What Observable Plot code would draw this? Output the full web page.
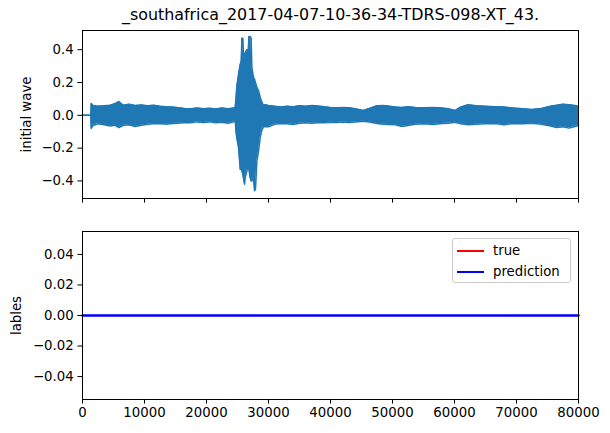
<!DOCTYPE html>
<html>
<head>
<meta charset="utf-8">
<script src="https://cdn.jsdelivr.net/npm/d3@7"></script>
<script src="https://cdn.jsdelivr.net/npm/@observablehq/plot@0.6"></script>
<style>
  html, body { margin: 0; padding: 0; background: white; }
  #wrap { position: relative; width: 610px; height: 433px; font-family: "DejaVu Sans", sans-serif; }
  #wrap svg { display: block; }
  .legend { position: absolute; left: 452px; top: 238px; width: 119px; height: 45px;
            border: 1px solid #cccccc; border-radius: 3px; background: rgba(255,255,255,0.8);
            box-sizing: border-box; font-size: 13.3px; color: #000; }
  .legend .sw { position: absolute; left: 4px; width: 27px; height: 2px; }
  .legend .lb { position: absolute; left: 40px; line-height: 15px; }
</style>
</head>
<body>
<div id="wrap"></div>
<script>
// ---- data ----
const titleText = "_southafrica_2017-04-07-10-36-34-TDRS-098-XT_43.";
const xTicks = [0, 10000, 20000, 30000, 40000, 50000, 60000, 70000, 80000];
const waveYTicks = [-0.4, -0.2, 0.0, 0.2, 0.4];
const labelYTicks = [-0.04, -0.02, 0.0, 0.02, 0.04];

// envelope of the waveform (sample index, upper, lower)
const waveX = [0, 1350, 1400, 1700, 2500, 3500, 4500, 5200, 5870, 6500, 7500, 8500, 9500, 10500, 11500, 12500, 13500, 14500, 15500, 16500, 17500, 18500, 19500, 20500, 21500, 22500, 23500, 24400,
  24630, 24790, 24900, 25170, 25440, 25600, 25710, 25870, 25950, 26140, 26240, 26520, 26700, 26840, 27050, 27200, 27320, 27590, 27750, 27900, 28130, 28390, 28660, 28930, 29200,
  29500, 30000, 31000, 32000, 33000, 34000, 35000, 36000, 37000, 38000, 39000, 40000, 41000, 42000, 43000, 44000, 45300, 46500, 47500, 48500, 49500, 50500, 51500, 52500, 53700,
  55000, 56500, 58000, 59000, 60100, 61000, 62200, 63500, 65000, 66500, 68000, 69500, 71000, 72500, 74000, 75500, 76500, 77500, 78500, 79400, 80000];
const waveUpper = [0, 0, 0.072, 0.060, 0.055, 0.058, 0.062, 0.070, 0.084, 0.062, 0.068, 0.060, 0.063, 0.058, 0.062, 0.055, 0.052, 0.050, 0.046, 0.042, 0.040, 0.044, 0.040, 0.043, 0.038, 0.044, 0.040, 0.045,
  0.049, 0.12, 0.18, 0.25, 0.31, 0.33, 0.47, 0.47, 0.38, 0.37, 0.38, 0.40, 0.36, 0.48, 0.48, 0.47, 0.29, 0.23, 0.22, 0.20, 0.17, 0.15, 0.11, 0.08, 0.06,
  0.065, 0.060, 0.055, 0.050, 0.055, 0.052, 0.058, 0.056, 0.060, 0.057, 0.052, 0.048, 0.046, 0.048, 0.046, 0.040, 0.030, 0.045, 0.058, 0.060, 0.055, 0.050, 0.048, 0.052, 0.048,
  0.046, 0.048, 0.044, 0.040, 0.030, 0.050, 0.065, 0.058, 0.055, 0.052, 0.050, 0.044, 0.040, 0.036, 0.042, 0.055, 0.062, 0.068, 0.064, 0.060, 0.055];
const waveLower = [0, 0, -0.080, -0.062, -0.052, -0.058, -0.065, -0.060, -0.075, -0.062, -0.058, -0.068, -0.060, -0.055, -0.052, -0.050, -0.055, -0.050, -0.048, -0.044, -0.046, -0.040, -0.044, -0.040, -0.046, -0.042, -0.048, -0.040,
  -0.032, -0.11, -0.14, -0.196, -0.33, -0.32, -0.34, -0.36, -0.38, -0.42, -0.38, -0.34, -0.31, -0.33, -0.38, -0.40, -0.40, -0.38, -0.46, -0.45, -0.277, -0.22, -0.135, -0.09, -0.07,
  -0.068, -0.070, -0.055, -0.050, -0.052, -0.056, -0.048, -0.046, -0.048, -0.045, -0.046, -0.042, -0.044, -0.040, -0.044, -0.040, -0.036, -0.042, -0.050, -0.054, -0.056, -0.058, -0.068, -0.062, -0.055,
  -0.052, -0.056, -0.050, -0.048, -0.042, -0.052, -0.058, -0.055, -0.052, -0.050, -0.058, -0.050, -0.052, -0.048, -0.055, -0.065, -0.075, -0.070, -0.078, -0.068, -0.062];

// label series (constant zero over the whole record)
const labelX = [0, 80000];
const trueY = [0, 0];
const predY = [0, 0];

// ---- build ----
const wave = waveX.map((x, i) => ({x, hi: waveUpper[i], lo: waveLower[i]}));
const labels = labelX.map((x, i) => ({x, t: trueY[i], p: predY[i]}));

const C = "#1f77b4";
const baseStyle = {fontFamily: "DejaVu Sans, sans-serif", fontSize: "13.3px", color: "black", background: "white", overflow: "visible"};

const topPlot = Plot.plot({
  width: 610, height: 215,
  marginTop: 30, marginBottom: 17, marginLeft: 82, marginRight: 32,
  style: baseStyle,
  x: {domain: [0, 80000]},
  y: {domain: [-0.507, 0.517]},
  marks: [
    Plot.areaY(wave, {x: "x", y1: "lo", y2: "hi", fill: C, curve: "linear"}),
    Plot.lineY(wave, {x: "x", y: "hi", stroke: C, strokeWidth: 1.5}),
    Plot.lineY(wave, {x: "x", y: "lo", stroke: C, strokeWidth: 1.5}),
    Plot.frame({stroke: "black", strokeWidth: 1}),
    Plot.axisX({ticks: xTicks, tickSize: 4.6, tickFormat: () => "", label: null, stroke: "black"}),
    Plot.axisY({ticks: waveYTicks, tickSize: 4.6, tickPadding: 4.2, tickFormat: d3.format(".1f"), label: null, stroke: "black"}),
    Plot.text([titleText], {frameAnchor: "top", dy: -11, lineAnchor: "bottom", fontSize: 15.9, fill: "black"}),
    Plot.text(["initial wave"], {frameAnchor: "left", dx: -56, rotate: -90, textAnchor: "middle", lineAnchor: "middle", fontSize: 13.3, fill: "black"})
  ]
});

const bottomPlot = Plot.plot({
  width: 610, height: 218,
  marginTop: 16, marginBottom: 34, marginLeft: 82, marginRight: 32,
  style: baseStyle,
  x: {domain: [0, 80000]},
  y: {domain: [-0.055, 0.055]},
  marks: [
    Plot.lineY(labels, {x: "x", y: "t", stroke: "#ff0000", strokeWidth: 1.2}),
    Plot.lineY(labels, {x: "x", y: "p", stroke: "#0000ff", strokeWidth: 2.4}),
    Plot.frame({stroke: "black", strokeWidth: 1}),
    Plot.axisX({ticks: xTicks, tickSize: 4.6, tickPadding: 3, tickFormat: d3.format("d"), label: null, stroke: "black"}),
    Plot.axisY({ticks: labelYTicks, tickSize: 4.6, tickPadding: 4.2, tickFormat: d3.format(".2f"), label: null, stroke: "black"}),
    Plot.text(["lables"], {frameAnchor: "left", dx: -66, rotate: -90, textAnchor: "middle", lineAnchor: "middle", fontSize: 13.3, fill: "black"})
  ]
});

const wrap = document.getElementById("wrap");
wrap.appendChild(topPlot);
wrap.appendChild(bottomPlot);

const legend = document.createElement("div");
legend.className = "legend";
legend.innerHTML =
  '<div class="sw" style="top:11px;background:#ff0000"></div><div class="lb" style="top:4px">true</div>' +
  '<div class="sw" style="top:32px;background:#0000ff"></div><div class="lb" style="top:25px">prediction</div>';
wrap.appendChild(legend);
</script>
</body>
</html>
